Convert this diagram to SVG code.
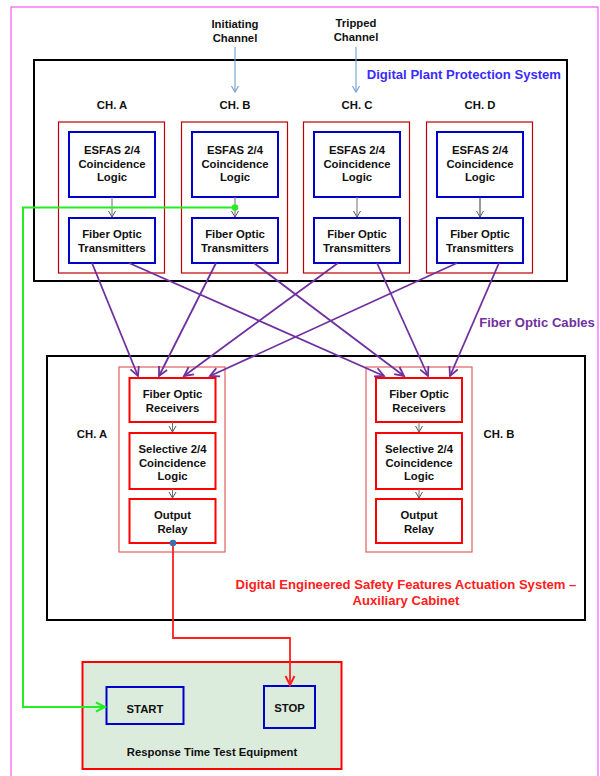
<svg xmlns="http://www.w3.org/2000/svg" width="600" height="776" viewBox="0 0 600 776">
<defs>
<style>
text{font-family:"Liberation Sans",Arial,sans-serif;font-weight:bold;text-anchor:middle;fill:#111}
.t11{font-size:11.3px}
.lbl{font-size:13.1px}
.chOuter{fill:#fff;stroke:#c00000;stroke-width:1.2}
.blue{fill:#fff;stroke:#0000cc;stroke-width:2}
.auxOuter{fill:#fff;stroke:#e06060;stroke-width:1.2}
.red{fill:#fff;stroke:#ff0000;stroke-width:2}
.sys{fill:#fff;stroke:#000;stroke-width:2}
.gray{stroke:#707070;stroke-width:1;fill:none}
.fiber{stroke:#7030a0;stroke-width:1.8;fill:none}
.inp{stroke:#7aa3d6;stroke-width:1.2;fill:none}
</style>
<marker id="ag" markerUnits="userSpaceOnUse" markerWidth="12" markerHeight="12" refX="8" refY="6" orient="auto">
<path d="M2,2.5 L8,6 L2,9.5" fill="none" stroke="#555" stroke-width="1"/>
</marker>
<marker id="ab" markerUnits="userSpaceOnUse" markerWidth="12" markerHeight="12" refX="8" refY="6" orient="auto">
<path d="M2,2.5 L8,6 L2,9.5" fill="none" stroke="#7aa3d6" stroke-width="1.2"/>
</marker>
<marker id="ap" markerUnits="userSpaceOnUse" markerWidth="14" markerHeight="14" refX="10" refY="7" orient="auto">
<path d="M1,2.5 L10,7 L1,11.5" fill="none" stroke="#7030a0" stroke-width="1.8"/>
</marker>
<marker id="agr" markerUnits="userSpaceOnUse" markerWidth="14" markerHeight="14" refX="10" refY="7" orient="auto">
<path d="M1,2.5 L10,7 L1,11.5" fill="none" stroke="#22ee22" stroke-width="2"/>
</marker>
<marker id="ar" markerUnits="userSpaceOnUse" markerWidth="14" markerHeight="14" refX="10" refY="7" orient="auto">
<path d="M1,2.5 L10,7 L1,11.5" fill="none" stroke="#ff2020" stroke-width="2"/>
</marker>
</defs>
<rect x="0" y="0" width="600" height="776" fill="#fff"/>
<rect x="11" y="7" width="587" height="780" fill="none" stroke="#ff33ff" stroke-width="1"/>

<g id="inputs">
<text class="t11" x="235" y="28">Initiating</text>
<text class="t11" x="235" y="42">Channel</text>
<text class="t11" x="356" y="27">Tripped</text>
<text class="t11" x="356" y="41">Channel</text>
</g>

<g id="dpps">
<rect class="sys" x="34" y="60" width="533" height="221"/>
<text class="lbl" x="561" y="79" style="text-anchor:end;fill:#3a2bff">Digital Plant Protection System</text>
</g>

<g id="dpps-chA">
<text class="t11" x="112" y="109">CH. A</text>
<rect class="chOuter" x="58.5" y="122" width="106" height="151"/>
<rect class="blue" x="69" y="132" width="86" height="65"/>
<text class="t11" x="112" y="154">ESFAS 2/4</text>
<text class="t11" x="112" y="167.5">Coincidence</text>
<text class="t11" x="112" y="181">Logic</text>
<rect class="blue" x="69" y="218" width="86" height="45"/>
<text class="t11" x="112" y="238">Fiber Optic</text>
<text class="t11" x="112" y="251.5">Transmitters</text>
</g>
<g id="dpps-chB">
<text class="t11" x="235" y="109">CH. B</text>
<rect class="chOuter" x="181.5" y="122" width="106" height="151"/>
<rect class="blue" x="192" y="132" width="86" height="65"/>
<text class="t11" x="235" y="154">ESFAS 2/4</text>
<text class="t11" x="235" y="167.5">Coincidence</text>
<text class="t11" x="235" y="181">Logic</text>
<rect class="blue" x="192" y="218" width="86" height="45"/>
<text class="t11" x="235" y="238">Fiber Optic</text>
<text class="t11" x="235" y="251.5">Transmitters</text>
</g>
<g id="dpps-chC">
<text class="t11" x="357" y="109">CH. C</text>
<rect class="chOuter" x="303.5" y="122" width="106" height="151"/>
<rect class="blue" x="314" y="132" width="86" height="65"/>
<text class="t11" x="357" y="154">ESFAS 2/4</text>
<text class="t11" x="357" y="167.5">Coincidence</text>
<text class="t11" x="357" y="181">Logic</text>
<rect class="blue" x="314" y="218" width="86" height="45"/>
<text class="t11" x="357" y="238">Fiber Optic</text>
<text class="t11" x="357" y="251.5">Transmitters</text>
</g>
<g id="dpps-chD">
<text class="t11" x="480" y="109">CH. D</text>
<rect class="chOuter" x="426.5" y="122" width="106" height="151"/>
<rect class="blue" x="437" y="132" width="86" height="65"/>
<text class="t11" x="480" y="154">ESFAS 2/4</text>
<text class="t11" x="480" y="167.5">Coincidence</text>
<text class="t11" x="480" y="181">Logic</text>
<rect class="blue" x="437" y="218" width="86" height="45"/>
<text class="t11" x="480" y="238">Fiber Optic</text>
<text class="t11" x="480" y="251.5">Transmitters</text>
</g>

<g id="desfas">
<rect class="sys" x="47" y="356" width="538" height="264"/>
<text class="lbl" x="406" y="589" style="fill:#ff2020">Digital Engineered Safety Features Actuation System –</text>
<text class="lbl" x="406" y="605" style="fill:#ff2020">Auxiliary Cabinet</text>
</g>

<g id="aux-chA">
<text class="t11" x="92" y="438">CH. A</text>
<rect class="auxOuter" x="119" y="367" width="106" height="185"/>
<rect class="red" x="129.5" y="378" width="86" height="44"/>
<text class="t11" x="172.5" y="398">Fiber Optic</text>
<text class="t11" x="172.5" y="412">Receivers</text>
<rect class="red" x="129.5" y="433" width="86" height="56"/>
<text class="t11" x="172.5" y="453">Selective 2/4</text>
<text class="t11" x="172.5" y="466.5">Coincidence</text>
<text class="t11" x="172.5" y="480">Logic</text>
<rect class="red" x="129.5" y="499" width="86" height="44"/>
<text class="t11" x="172.5" y="519">Output</text>
<text class="t11" x="172.5" y="532.5">Relay</text>
</g>
<g id="aux-chB">
<text class="t11" x="499" y="438">CH. B</text>
<rect class="auxOuter" x="366" y="367" width="106" height="185"/>
<rect class="red" x="376" y="378" width="86" height="44"/>
<text class="t11" x="419" y="398">Fiber Optic</text>
<text class="t11" x="419" y="412">Receivers</text>
<rect class="red" x="376" y="433" width="86" height="56"/>
<text class="t11" x="419" y="453">Selective 2/4</text>
<text class="t11" x="419" y="466.5">Coincidence</text>
<text class="t11" x="419" y="480">Logic</text>
<rect class="red" x="376" y="499" width="86" height="44"/>
<text class="t11" x="419" y="519">Output</text>
<text class="t11" x="419" y="532.5">Relay</text>
</g>

<g id="test-equipment">
<rect x="82.5" y="662" width="259" height="107" fill="#dcecdc" stroke="#ff0000" stroke-width="2"/>
<text class="t11" x="212" y="756">Response Time Test Equipment</text>
</g>
<g id="start">
<rect x="106.5" y="687" width="77" height="37" fill="none" stroke="#0000cc" stroke-width="2"/>
<text class="t11" x="145" y="713">START</text>
</g>
<g id="stop">
<rect x="264" y="686" width="51" height="42" fill="none" stroke="#0000cc" stroke-width="2"/>
<text class="t11" x="289.5" y="712">STOP</text>
</g>

<g id="cables-label">
<text class="lbl" x="537" y="327" style="fill:#7030a0">Fiber Optic Cables</text>
</g>

<g id="connectors">
<line class="inp" x1="235" y1="47" x2="235" y2="92" marker-end="url(#ab)"/>
<line class="inp" x1="356" y1="47" x2="356" y2="92" marker-end="url(#ab)"/>

<line class="gray" x1="112" y1="197" x2="112" y2="217" marker-end="url(#ag)"/>
<line class="gray" x1="235" y1="197" x2="235" y2="217" marker-end="url(#ag)"/>
<line class="gray" x1="357" y1="197" x2="357" y2="217" marker-end="url(#ag)"/>
<line class="gray" x1="480" y1="197" x2="480" y2="217" marker-end="url(#ag)" style="stroke:#333"/>

<line class="gray" x1="172.5" y1="422" x2="172.5" y2="432" marker-end="url(#ag)"/>
<line class="gray" x1="172.5" y1="489" x2="172.5" y2="498" marker-end="url(#ag)"/>
<line class="gray" x1="419" y1="422" x2="419" y2="432" marker-end="url(#ag)"/>
<line class="gray" x1="419" y1="489" x2="419" y2="498" marker-end="url(#ag)"/>

<line class="fiber" x1="92" y1="263" x2="138" y2="376" marker-end="url(#ap)"/>
<line class="fiber" x1="216" y1="263" x2="159" y2="376" marker-end="url(#ap)"/>
<line class="fiber" x1="338" y1="263" x2="184" y2="376" marker-end="url(#ap)"/>
<line class="fiber" x1="457" y1="263" x2="210" y2="376" marker-end="url(#ap)"/>
<line class="fiber" x1="129" y1="263" x2="384" y2="376" marker-end="url(#ap)"/>
<line class="fiber" x1="254" y1="263" x2="404" y2="376" marker-end="url(#ap)"/>
<line class="fiber" x1="377" y1="263" x2="428" y2="376" marker-end="url(#ap)"/>
<line class="fiber" x1="499" y1="263" x2="450" y2="376" marker-end="url(#ap)"/>

<path d="M235,207.5 H23 V707 H105" fill="none" stroke="#22ee22" stroke-width="2" marker-end="url(#agr)"/>
<circle cx="235" cy="207.5" r="3.2" fill="#22ee22"/>

<path d="M173,543 V638 H290 V685" fill="none" stroke="#ff2020" stroke-width="1.8" marker-end="url(#ar)"/>
<circle cx="173" cy="543" r="3.3" fill="#3b6fb0"/>
</g>
</svg>
